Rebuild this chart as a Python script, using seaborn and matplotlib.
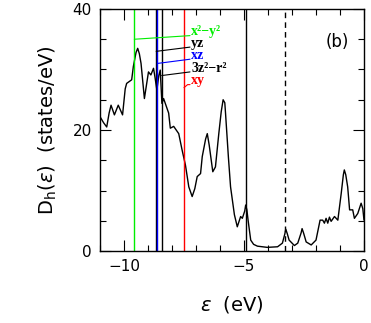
import matplotlib
matplotlib.use("Agg")
import matplotlib.pyplot as plt
import seaborn as sns
import pandas as pd
from matplotlib.ticker import MultipleLocator

energy = [-11.0, -10.85, -10.72, -10.62, -10.54, -10.4, -10.24, -10.06, -9.95, -9.89,
          -9.68, -9.61, -9.5, -9.43, -9.36, -9.29, -9.15, -9.05, -8.98, -8.88,
          -8.77, -8.7, -8.63, -8.55, -8.49, -8.42, -8.35, -8.14, -8.07, -7.93,
          -7.72, -7.58, -7.44, -7.3, -7.16, -7.05, -6.95, -6.81, -6.74, -6.6,
          -6.53, -6.45, -6.3, -6.19, -6.05, -5.95, -5.87, -5.8, -5.77, -5.65,
          -5.56, -5.4, -5.28, -5.14, -5.07, -4.97, -4.93, -4.88, -4.83, -4.72,
          -4.6, -4.44, -4.03, -3.6, -3.4, -3.3, -3.26, -3.2, -3.12, -2.9,
          -2.76, -2.62, -2.58, -2.52, -2.41, -2.2, -2.0, -1.83, -1.72, -1.65,
          -1.58, -1.51, -1.44, -1.37, -1.23, -1.09, -0.95, -0.86, -0.82, -0.76,
          -0.68, -0.6, -0.47, -0.4, -0.26, -0.12, -0.05, 0.0]
dos = [22.2, 21.2, 20.5, 22.8, 24.1, 22.5, 24.1, 22.5, 26.8, 27.7,
       28.3, 30.5, 32.8, 33.5, 32.6, 31.0, 25.2, 27.8, 29.6, 29.1,
       30.2, 28.5, 26.6, 29.0, 29.9, 24.4, 25.2, 22.8, 20.3, 20.6,
       19.4, 16.7, 14.2, 10.6, 9.0, 10.3, 12.3, 12.8, 15.6, 18.5,
       19.4, 17.5, 13.1, 13.9, 19.4, 23.0, 25.0, 24.5, 22.8, 15.5,
       10.6, 6.0, 4.0, 5.7, 5.4, 6.6, 7.6, 6.8, 5.1, 1.8,
       1.1, 0.8, 0.6, 0.7, 1.3, 2.8, 3.6, 2.9, 1.8, 0.9,
       1.3, 3.0, 3.7, 3.0, 1.5, 1.0, 1.8, 5.1, 5.1, 4.6,
       5.4, 4.6, 5.6, 4.9, 5.7, 5.1, 9.5, 12.6, 13.4, 12.6,
       10.6, 6.8, 6.8, 5.4, 6.2, 7.9, 7.0, 5.1]

orbital_labels = ["x\u00b2\u2212y\u00b2", "yz", "xz", "3z\u00b2\u2212r\u00b2", "xy"]
orbital_energies = [-9.57, -8.66, -8.61, -8.43, -7.5]
orbital_colors = ["#00ee00", "black", "#0000ff", "black", "#ff0000"]
leader_start_y = [35.0, 33.0, 31.0, 29.0, 27.0]
label_y = [36.2, 34.3, 32.3, 30.2, 28.1]
fermi_level = -4.93
dashed_level = -3.28

sns.set_style("ticks")
plt.rcParams["font.family"] = ["DejaVu Sans"]
for k in ["text.color", "axes.labelcolor", "xtick.color", "ytick.color", "axes.edgecolor"]:
    plt.rcParams[k] = "black"

fig = plt.figure(figsize=(3.71, 3.23), dpi=100)
ax = fig.add_axes([100 / 371, 1 - 251 / 323, 264 / 371, 242 / 323])

df = pd.DataFrame({"energy": energy, "dos": dos})
sns.lineplot(data=df, x="energy", y="dos", ax=ax, color="black", lw=1.0,
             sort=False, estimator=None)

for e, c in zip(orbital_energies, orbital_colors):
    ax.axvline(e, color=c, lw=1.0)
ax.axvline(fermi_level, color="black", lw=1.0)
ax.axvline(dashed_level, color="black", lw=1.0, ls=(0, (4, 3)))

label_x = -7.25
for lab, e, c, ys, yl in zip(orbital_labels, orbital_energies, orbital_colors,
                              leader_start_y, label_y):
    if lab == "xy":
        ax.plot([e, e + 0.15, label_x], [ys, ys + 0.5, yl - 0.6], color=c, lw=0.8)
    else:
        ax.plot([e, label_x], [ys, yl - 0.6], color=c, lw=0.8)
    ax.text(label_x + 0.05, yl, lab, color=c, fontsize=10, fontweight="bold",
            family=["Liberation Serif"], va="center", ha="left")

ax.text(-1.1, 34.5, "(b)", fontsize=12, ha="center", va="center")

ax.set_xlim(-11, 0)
ax.set_ylim(0, 40)
ax.xaxis.set_major_locator(MultipleLocator(5))
ax.xaxis.set_minor_locator(MultipleLocator(1))
ax.yaxis.set_major_locator(MultipleLocator(20))
ax.yaxis.set_minor_locator(MultipleLocator(5))
ax.tick_params(which="both", direction="in", top=True, right=True, width=0.8,
               labelsize=11, pad=6)
ax.tick_params(which="major", length=8)
ax.tick_params(which="minor", length=4)
ax.set_xticks([-10, -5, 0])
ax.set_xticklabels(["\u221210", "\u22125", "0"])
for s in ax.spines.values():
    s.set_linewidth(1.0)
    s.set_visible(True)

ax.set_xlabel(r"$\varepsilon$  (eV)", fontsize=14, labelpad=14)
ax.set_ylabel(r"D$_\mathrm{h}$($\varepsilon$)  (states/eV)", fontsize=14, labelpad=10)

fig.savefig("out.png", dpi=100)
